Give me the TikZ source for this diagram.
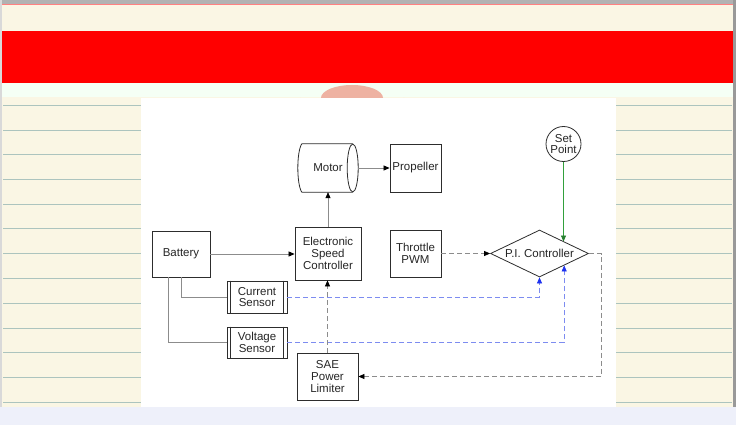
\documentclass[tikz,border=0pt]{standalone}
\usepackage{fontspec}
\setmainfont{Liberation Sans}
\usetikzlibrary{arrows.meta,calc,shapes.geometric}
\definecolor{paper}{RGB}{250,246,228}
\definecolor{rulec}{RGB}{172,196,190}
\definecolor{strip}{RGB}{238,240,250}
\definecolor{boxc}{RGB}{45,45,45}
\definecolor{connc}{RGB}{140,140,140}
\definecolor{bluel}{RGB}{125,140,240}
\definecolor{bluet}{RGB}{30,50,240}
\definecolor{greenl}{RGB}{50,160,60}
\definecolor{blob}{RGB}{238,178,162}
\begin{document}
\begin{tikzpicture}[x=1pt,y=-1pt,
  txt/.style={align=center,font=\fontsize{11.5}{11.7}\selectfont,text=black!85,inner sep=0pt},
  box/.style={txt,draw=boxc,line width=0.8pt,fill=white},
  conn/.style={draw=connc,line width=0.7pt},
  dconn/.style={conn,dash pattern=on 5pt off 3pt},
  bconn/.style={draw=bluel,line width=0.7pt,dash pattern=on 5pt off 3pt},
  ktip/.style={-{Triangle[length=6pt,width=5pt,color=black]}},
  btip/.style={-{Triangle[length=6pt,width=5pt,color=bluet]}},
  gtip/.style={-{Triangle[length=6pt,width=5pt,color=greenl!80!black]}},
  ruled/.style={draw=rulec,line width=0.9pt}]
\useasboundingbox (0,0) rectangle (736,425);
% background
\fill[strip] (0,0) rectangle (736,425);
\fill[paper] (2,4) rectangle (733,407);
\fill[black!30] (0,0) rectangle (736,4);
\draw[red!50!white,line width=1pt] (2,5) -- (733,5);
\fill[black!40] (733,0) rectangle (736,407);
\fill[black!15] (0,0) rectangle (2,407);
\fill[red] (2,31) rectangle (733,83);
\fill[green!4!white] (2,83) rectangle (733,97);
\foreach \yy in {105,130,154,179,204,228,253,278,303,328,352,377,402}
  \draw[ruled] (3,\yy) -- (732,\yy);
\draw[blob!45!white,line width=0.6pt] (300,98) arc[start angle=180,end angle=0,x radius=52,y radius=15];
\fill[blob] (352,98) ellipse [x radius=31, y radius=13];
\fill[white] (141,98) rectangle (616,407);
% nodes
\node[box,minimum width=58pt,minimum height=46pt] (battery) at (181,254) {Battery};
\node[box,minimum width=66pt,minimum height=53pt] (esc) at (328,253.5) {Electronic\\Speed\\Controller};
\node[txt,minimum width=60pt,minimum height=48pt] (motor) at (328,168) {Motor};
\node[box,minimum width=51pt,minimum height=48pt] (prop) at (415.5,168) {Propeller};
\node[box,minimum width=51pt,minimum height=47pt] (throttle) at (415.5,253.5) {Throttle\\PWM};
\node[box,diamond,aspect=2.1,minimum width=98pt,minimum height=47pt] (pi) at (539.5,253.5) {P.I. Controller};
\node[box,circle,minimum size=35pt] (setpoint) at (563.5,144) {Set\\Point};
\node[box,minimum width=61pt,minimum height=47pt] (sae) at (327.5,376.5) {SAE\\Power\\Limiter};
\node[box,minimum width=60pt,minimum height=32pt] (cs) at (257,297) {Current\\Sensor};
\node[box,minimum width=60pt,minimum height=31pt] (vs) at (257,342.5) {Voltage\\Sensor};
\foreach \n in {cs,vs}{
  \draw[boxc,line width=0.8pt] ([xshift=4pt]\n.north west) -- ([xshift=4pt]\n.south west);
  \draw[boxc,line width=0.8pt] ([xshift=-4pt]\n.north east) -- ([xshift=-4pt]\n.south east);
}
% motor cylinder outline
\draw[boxc,line width=0.8pt]
  ($(motor.north west)+(4,0)$) -- ($(motor.north east)+(-5.5,0)$)
  ($(motor.south west)+(4,0)$) -- ($(motor.south east)+(-5.5,0)$)
  ($(motor.north west)+(4,0)$) .. controls ($(motor.north west)+(-1.3,8)$) and ($(motor.south west)+(-1.3,-8)$) .. ($(motor.south west)+(4,0)$);
\draw[boxc,line width=0.8pt] ($(motor.east)+(-5.5,0)$) ellipse [x radius=5.5, y radius=24];
% connectors
\coordinate (fb) at (601.5,253.5);
\draw[conn,ktip] (battery.east) -- (battery.east -| esc.west);
\draw[conn,ktip] (esc.north) -- (motor.south);
\draw[conn,ktip] (motor.east) -- (prop.west);
\draw[conn] (battery.south) |- (cs.west);
\draw[conn] ([xshift=-13pt]battery.south) |- (vs.west);
\draw[bconn,btip] (cs.east) -| (pi.south);
\draw[bconn,btip] (vs.east) -| (pi.south east);
\draw[dconn,ktip] (throttle.east) -- (pi.west);
\draw[dconn,ktip] (pi.east) -- (fb) |- (sae.east);
\draw[dconn,ktip] (sae.north) -- (sae.north |- esc.south);
\draw[draw=greenl,line width=0.7pt,gtip] (setpoint.south) -- (setpoint.south |- pi.north east);
\end{tikzpicture}
\end{document}
